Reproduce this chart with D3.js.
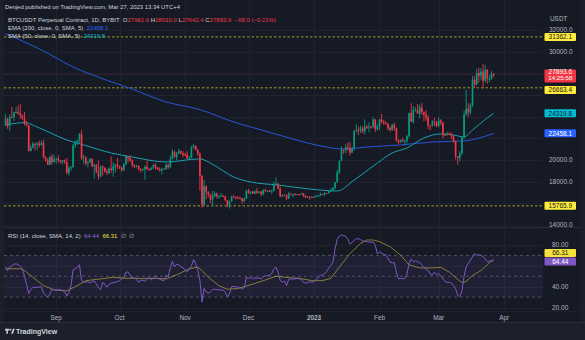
<!DOCTYPE html>
<html>
<head>
<meta charset="utf-8">
<script src="https://cdn.jsdelivr.net/npm/d3@7"></script>
<style>
  html, body { margin: 0; padding: 0; background: #161a25; }
  svg { display: block; font-family: "Liberation Sans", Arial, sans-serif; }
</style>
</head>
<body>
<svg id="chart" width="585" height="340"></svg>
<script>
// ---- BTCUSDT perpetual, daily candles 2022-08-08 .. 2023-03-27 ----
const firstDay = "2022-08-08";
const lastDay = "2023-03-27";

const opens = [
  23170,23810,23150,23950,23930,24400,24440,24300,24100,23850,23340,23200,20830,21140,21520,21400,21530,21370,21570,20260,20040,19550,20290,19800,
  20050,20130,19950,19830,19990,19800,18790,19290,19320,21360,21650,21830,22400,20170,20230,19700,19800,20110,19420,19540,18880,18480,19400,19300,18930,18800,19220,19080,19410,19590,
  19420,19310,19060,19620,20340,20160,19960,19530,19420,19440,19130,19060,19150,19380,19180,19070,19270,19550,19330,19120,19040,19160,19200,19570,19330,20090,20770,20290,20600,20810,20630,
  20490,20480,20150,20210,21150,21300,20910,20590,18540,15880,17590,17070,16810,16330,16620,16900,16660,16690,16700,16630,16290,15780,16190,16610,16600,16520,16460,16440,16210,16440,
  17170,16970,17090,16890,17110,16970,17090,16840,17230,17130,17130,17090,17200,17780,17810,17360,16630,16780,16740,16440,16900,16820,16830,16780,16840,16830,16920,16700,16550,16630,16600,
  16540,16620,16680,16680,16860,16830,16950,16940,17120,17180,17440,17940,18850,19930,20960,20880,21180,21130,20680,21080,22680,22780,22710,22920,22630,23060,23010,23080,23030,23740,22830,
  23130,23730,23490,23430,23320,22930,22760,23260,22960,21800,21630,21860,21780,21780,22200,24330,23520,24570,24630,24280,24840,24440,24190,23950,23190,23160,23560,23490,
  23130,23650,23470,22360,22350,22430,22410,22200,21700,20360,20190,20630,22160,24200,24750,24380,25050,27420,26970,28040,27770,28170,27310,28330,27490,27490,27961.6
];
const highs = [
  24240,23920,24230,24900,24450,24890,25050,25200,24230,24450,23600,23200,21360,21680,21520,21660,21800,21800,21860,20340,20140,20400,20550,20480,
  20200,20440,19990,20000,20050,20180,19450,19440,21500,21800,21850,22490,22780,20480,20330,19900,20180,20120,19680,19620,19950,19490,19500,19310,19180,19310,20340,19790,19640,20180,
  19480,19390,19720,20460,20370,20440,20060,19610,19550,19530,19260,19220,19510,19950,19220,19360,19670,19700,19340,19330,19250,19250,19690,19600,20400,21000,20870,20750,21080,20900,20820,
  20690,20800,20390,21300,21480,21360,21050,20690,18590,18150,17650,17090,16880,17160,17110,16980,16740,16960,16800,16710,16300,16250,16690,16790,16610,16680,16600,16480,16540,17240,
  17320,17100,17150,17200,17420,17110,17140,17300,17360,17230,17270,17240,18000,18390,17850,17530,16800,16860,16810,17060,16910,16870,16950,16860,16860,16940,16970,16780,16660,16650,16630,
  16630,16790,16760,16990,16880,17040,16960,17180,17390,17490,17990,19100,19960,21260,20990,21460,21620,21640,21190,22730,23290,23060,23160,23120,23760,23240,23480,23160,23950,23780,23290,
  23790,24250,23710,23580,23420,23150,23350,23450,23000,21930,21900,22060,21880,22320,24370,25250,24990,24880,25170,25120,25250,24470,24600,24130,23210,23670,23880,23600,
  23950,23780,23480,22420,22610,22550,22540,22270,21820,20370,20820,22190,24550,26460,25240,25230,27770,27740,28440,28500,28480,28850,28770,28400,27800,28200,28010
];
const lows = [
  23150,22880,22690,23860,23600,24300,24150,23800,23700,23180,23100,20800,20790,21070,20890,20900,21160,21320,20130,19800,19550,19550,19560,19800,
  19650,19760,19650,19600,19640,18680,18540,19010,19300,21100,21370,21560,20000,19630,19500,19320,19750,19370,18270,18800,18150,18370,18560,18840,18630,18690,18820,18470,18850,19160,
  19160,18920,19000,19500,19740,19860,19330,19250,19320,19030,18860,18980,18190,19070,18980,19060,19160,19110,19070,18920,18660,19130,19080,19160,19250,20060,20200,20000,20560,20510,20250,
  20350,20060,20040,20180,21080,20900,20390,17170,15590,15750,16380,16560,16000,15810,16550,16420,16420,16610,16560,16180,15620,15510,16160,16490,16350,16410,16400,16000,16100,16420,
  16860,16800,16870,16880,16870,16910,16680,16740,17060,17090,17070,16880,17080,17660,17280,16580,16580,16680,16300,16400,16750,16570,16760,16770,16730,16790,16590,16470,16490,16330,16480,
  16500,16550,16600,16660,16750,16680,16910,16910,17100,17140,17310,17900,18720,19900,20560,20630,20880,20420,20660,20870,22530,22300,22480,22470,22340,22860,22560,22890,22990,22560,22720,
  22760,23370,23220,23260,22760,22630,22740,22670,21690,21470,21600,21640,21370,21530,22050,23500,23340,24480,24280,23850,24150,23590,23620,22840,22740,23080,23110,23030,
  23020,23200,21970,22200,22220,22300,21930,21590,20050,19560,19890,20450,21940,24080,23950,24200,24900,26663.4,26890,27150,27360,26640,27160,27020,27170,27440,27642.4
];
const closes = [
  23810,23150,23950,23930,24400,24440,24300,24100,23850,23340,23200,20830,21140,21520,21400,21530,21370,21570,20260,20040,19550,20290,19800,20050,
  20130,19950,19830,19990,19800,18790,19290,19320,21360,21650,21830,22400,20170,20230,19700,19800,20110,19420,19540,18880,18480,19400,19300,18930,18800,19220,19080,19410,19590,19420,
  19310,19060,19620,20340,20160,19960,19530,19420,19440,19130,19060,19150,19380,19180,19070,19270,19550,19330,19120,19040,19160,19200,19570,19330,20090,20770,20290,20600,20810,20630,20490,
  20480,20150,20210,21150,21300,20910,20590,18540,15880,17590,17070,16810,16330,16620,16900,16660,16690,16700,16630,16290,15780,16190,16610,16600,16520,16460,16440,16210,16440,17170,
  16970,17090,16890,17110,16970,17090,16840,17230,17130,17130,17090,17200,17780,17810,17360,16630,16780,16740,16440,16900,16820,16830,16780,16840,16830,16920,16700,16550,16630,16600,16540,
  16620,16680,16680,16860,16830,16950,16940,17120,17180,17440,17940,18850,19930,20960,20880,21180,21130,20680,21080,22680,22780,22710,22920,22630,23060,23010,23080,23030,23740,22830,23130,
  23730,23490,23430,23320,22930,22760,23260,22960,21800,21630,21860,21780,21780,22200,24330,23520,24570,24630,24280,24840,24440,24190,23950,23190,23160,23560,23490,23130,
  23650,23470,22360,22350,22430,22410,22200,21700,20360,20190,20630,22160,24200,24750,24380,25050,27420,26970,28040,27770,28170,27310,28330,27490,27490,27961.6,27893.6
];

// RSI (14) per day, same days as the candles
const rsiValues = [
  58.8,55.5,58.8,60,61.5,62,61,59.8,57.2,50,42,33.5,37,39.5,39.3,39.5,39.5,40,34,31.5,30,33,37.6,36.7,
  36.7,36.8,37,36.5,35,31.1,34.5,41,56,57.2,58.5,61,46,44.5,44.2,44.8,43.6,45,45.5,42.5,39,37,44,42.5,39.5,42,43.5,43.8,44.1,45,
  45.8,47.5,49,54,54,51,48,48.7,47,44.2,46,46.3,45,47.5,48.5,46.5,48.5,50.5,48.5,47,46.3,45.8,51,49.5,58,64.5,59,61.5,61,59.5,58,
  56,54.6,56.5,60,66,62,56,46,25.3,38.4,35,33.7,35,37,37.6,37.2,36.8,37,36.8,34.5,30.5,33,40,40.2,40,39.5,39.3,37.5,39,49,
  48,49,47.4,48.5,48,48.5,47.5,49.5,50.5,50.5,51,52.5,57,58.8,54,46,44.5,45.5,41,47,47.4,47.4,47.4,48,47.5,47,44.1,43.5,44,44.8,44.1,
  45,46.7,49,50.7,51.3,52.5,54.6,58,60.5,63.7,77,85.5,88.5,89.7,89,88.3,85.5,81,82.5,84.3,86,86,85.3,84,83.5,83.2,82.8,82.5,83.2,79.5,71.5,
  73.4,72,71.2,70.3,67,63.7,63,63,53.5,47.5,48,47.5,47.7,52,62.5,66.5,63.8,64.8,64,63,61,58.5,56.8,55.5,52,51.5,53.9,51.5,
  52.5,50.5,47.5,45,44.1,44.1,43.5,41,38,31.5,30.5,35.5,50,59,62.5,65.5,68.5,71.8,70.3,70.5,70,69,66.5,64,64.2,65,64.44
];

// SMA (14) of RSI
const rsiMaDates = ["2022-08-08","2022-08-15","2022-08-17","2022-08-21","2022-08-26","2022-08-31","2022-09-06","2022-09-11","2022-09-15","2022-09-22","2022-09-28","2022-10-04","2022-10-11","2022-10-19","2022-10-23","2022-10-29","2022-11-03","2022-11-07","2022-11-09","2022-11-12","2022-11-17","2022-11-21","2022-11-26","2022-12-03","2022-12-09","2022-12-14","2022-12-18","2022-12-25","2022-12-31","2023-01-05","2023-01-09","2023-01-13","2023-01-18","2023-01-23","2023-01-26","2023-01-29","2023-02-01","2023-02-06","2023-02-11","2023-02-15","2023-02-20","2023-02-25","2023-03-02","2023-03-06","2023-03-10","2023-03-12","2023-03-14","2023-03-17","2023-03-21","2023-03-24","2023-03-27"];
const rsiMaValues = [57.2,57.2,55.5,49,41,37,36,41,45.8,47.4,49,48,48,48,47.4,52.3,57.2,58.8,55.5,49,40.9,37.6,38.2,42.5,46.4,50,49,48,45.8,45.8,48,58.8,71.8,81.5,84.8,84.8,83.2,78.3,70.2,61,58,58,58.5,54,47,44,45,50.7,55.5,61,66.31];

// EMA (200) of close
const emaDates = ["2022-08-08","2022-08-21","2022-08-25","2022-09-09","2022-09-22","2022-10-06","2022-10-23","2022-11-08","2022-11-24","2022-12-02","2022-12-17","2023-01-02","2023-01-15","2023-01-26","2023-02-11","2023-02-26","2023-03-13","2023-03-27"];
const emaValues = [31650,30540,30160,28590,27570,26620,25360,24650,23510,23050,22220,21390,21020,21200,21390,21660,21760,22458.1];

// SMA (50) of close
const smaDates = ["2022-08-08","2022-08-17","2022-08-24","2022-09-06","2022-09-14","2022-09-27","2022-10-07","2022-10-23","2022-11-08","2022-11-14","2022-11-24","2022-12-02","2022-12-15","2022-12-30","2023-01-12","2023-01-20","2023-01-31","2023-02-07","2023-02-14","2023-02-22","2023-03-02","2023-03-08","2023-03-13","2023-03-17","2023-03-24","2023-03-27"];
const smaValues = [23230,23450,22960,21850,21390,20650,20280,19820,20100,19600,18430,17970,17690,17320,17140,18150,19720,20650,21110,22030,22400,22310,22120,22770,23880,24319.8];

// Horizontal levels
const levelValues = [31362.1, 26663.4, 15765.9];
const lastPrice = 27893.6;

// Axis ticks
const priceTicks = [14000, 16000, 18000, 20000, 22000, 24000, 26000, 28000, 30000, 32000];
const rsiTicks = [20, 40, 60, 80];
const rsiBands = [70, 50, 30];
const monthTicks = ["2022-09-01","2022-10-01","2022-11-01","2022-12-01","2023-01-01","2023-02-01","2023-03-01","2023-04-01"];
const monthLabels = ["Sep","Oct","Nov","Dec","2023","Feb","Mar","Apr"];

// ---- drawing ----
const parse = d3.utcParse("%Y-%m-%d");
const days = d3.utcDay.range(parse(firstDay), d3.utcDay.offset(parse(lastDay), 1));
const candles = days.map((d, i) => ({ date: d, o: opens[i], h: highs[i], l: lows[i], c: closes[i], rsi: rsiValues[i] }));

const svg = d3.select("#chart");
const W = 585, H = 340;
const plotL = 4, plotR = 543, frameR = 580;
const mainTop = 0, mainBot = 227, rsiTop = 228, rsiBot = 311, footTop = 322;

const x = d3.scaleUtc().domain([parse("2022-09-01"), parse("2023-04-01")]).range([56.2, 504.2]);
const y = d3.scaleLinear().domain([14000, 32000]).range([225, 30]);
const yR = d3.scaleLinear().domain([20, 80]).range([307.5, 245]);

const C = {
  bg: "#161a25", frame: "#1c202b", grid: "#1f2330", sep: "#2a2e39",
  text: "#b2b5be", textHi: "#d1d4dc", up: "#089981", down: "#f23645",
  ema: "#2a55d8", emaLbl: "#2962ff", sma: "#17a2b0", smaLbl: "#00bcd4",
  level: "#c2b02e", levelLbl: "#ffeb3b", rsi: "#7e57c2", rsiMa: "rgba(205,185,60,0.6)", rsiMaLbl: "#f5e13a"
};

// background and frame
svg.append("rect").attr("width", W).attr("height", H).attr("fill", C.bg);
svg.append("rect").attr("x", 0).attr("y", footTop).attr("width", W).attr("height", H - footTop).attr("fill", C.frame);
svg.append("rect").attr("x", 0).attr("y", 0).attr("width", plotL).attr("height", footTop).attr("fill", C.frame);
svg.append("rect").attr("x", frameR).attr("y", 0).attr("width", W - frameR).attr("height", footTop).attr("fill", C.frame);
svg.append("line").attr("x1", 0).attr("x2", W).attr("y1", footTop + 0.5).attr("y2", footTop + 0.5).attr("stroke", C.sep);

const defs = svg.append("defs");
defs.append("clipPath").attr("id", "clipMain").append("rect")
  .attr("x", plotL).attr("y", mainTop).attr("width", plotR - plotL).attr("height", mainBot - mainTop);
defs.append("clipPath").attr("id", "clipRsi").append("rect")
  .attr("x", plotL).attr("y", rsiTop).attr("width", plotR - plotL).attr("height", rsiBot - rsiTop);

// grid
const grid = svg.append("g").attr("stroke", C.grid).attr("stroke-width", 1);
grid.selectAll("line.h").data(priceTicks).join("line")
  .attr("x1", plotL).attr("x2", plotR)
  .attr("y1", d => Math.round(y(d)) + 0.5).attr("y2", d => Math.round(y(d)) + 0.5);
grid.selectAll("line.r").data(rsiTicks).join("line")
  .attr("x1", plotL).attr("x2", plotR)
  .attr("y1", d => Math.round(yR(d)) + 0.5).attr("y2", d => Math.round(yR(d)) + 0.5);
grid.selectAll("line.v").data(monthTicks).join("line")
  .attr("x1", d => Math.round(x(parse(d))) + 0.5).attr("x2", d => Math.round(x(parse(d))) + 0.5)
  .attr("y1", mainTop).attr("y2", rsiBot);

// pane separators
svg.append("line").attr("x1", plotL).attr("x2", frameR).attr("y1", mainBot + 0.5).attr("y2", mainBot + 0.5).attr("stroke", C.sep);
svg.append("line").attr("x1", plotL).attr("x2", frameR).attr("y1", rsiBot + 0.5).attr("y2", rsiBot + 0.5).attr("stroke", "#1d212c");

// ---- main pane ----
const main = svg.append("g").attr("clip-path", "url(#clipMain)");

// last price dotted line
main.append("line").attr("x1", plotL).attr("x2", plotR)
  .attr("y1", y(lastPrice)).attr("y2", y(lastPrice))
  .attr("stroke", "rgba(242,54,69,0.35)").attr("stroke-dasharray", "1,1.5");

// horizontal levels
main.selectAll("line.level").data(levelValues).join("line")
  .attr("x1", plotL).attr("x2", plotR)
  .attr("y1", d => y(d)).attr("y2", d => y(d))
  .attr("stroke", C.level).attr("stroke-opacity", 0.85).attr("stroke-dasharray", "2.5,2");

// moving averages
const maLine = d3.line().curve(d3.curveMonotoneX);
main.append("path")
  .attr("d", maLine(emaDates.map((d, i) => [x(parse(d)), y(emaValues[i])])))
  .attr("fill", "none").attr("stroke", C.ema).attr("stroke-width", 1);
main.append("path")
  .attr("d", maLine(smaDates.map((d, i) => [x(parse(d)), y(smaValues[i])])))
  .attr("fill", "none").attr("stroke", C.sma).attr("stroke-width", 1);

// candles
const bodyW = 1.65;
const cg = main.append("g");
cg.selectAll("line.wick").data(candles).join("line")
  .attr("x1", d => x(d.date)).attr("x2", d => x(d.date))
  .attr("y1", d => y(d.h)).attr("y2", d => y(d.l))
  .attr("stroke", d => d.c >= d.o ? C.up : C.down).attr("stroke-width", 0.9);
cg.selectAll("rect.body").data(candles).join("rect")
  .attr("x", d => x(d.date) - bodyW / 2).attr("width", bodyW)
  .attr("y", d => y(Math.max(d.o, d.c)))
  .attr("height", d => Math.max(0.9, Math.abs(y(d.o) - y(d.c))))
  .attr("fill", d => d.c >= d.o ? C.up : C.down);

// ---- RSI pane ----
const rsiG = svg.append("g").attr("clip-path", "url(#clipRsi)");
rsiG.append("rect").attr("x", plotL).attr("width", plotR - plotL)
  .attr("y", yR(70)).attr("height", yR(30) - yR(70))
  .attr("fill", "rgba(126,87,194,0.1)");
rsiG.selectAll("line.band").data(rsiBands).join("line")
  .attr("x1", plotL).attr("x2", plotR)
  .attr("y1", d => yR(d)).attr("y2", d => yR(d))
  .attr("stroke", "rgba(120,123,134,0.55)").attr("stroke-dasharray", "3,3");
rsiG.append("path")
  .attr("d", d3.line()(rsiMaDates.map((d, i) => [x(parse(d)), yR(rsiMaValues[i])])))
  .attr("fill", "none").attr("stroke", C.rsiMa).attr("stroke-width", 1);
rsiG.append("path")
  .attr("d", d3.line().x(d => x(d.date)).y(d => yR(d.rsi))(candles))
  .attr("fill", "none").attr("stroke", C.rsi).attr("stroke-width", 1);

// ---- price scale ----
const axisX = 549;
const fmt = d3.format(".1f");
const lastRsi = rsiValues[rsiValues.length - 1];
const lastRsiMa = rsiMaValues[rsiMaValues.length - 1];

// value tags on the scale: [centre y, half height]
const priceTags = [
  [y(levelValues[0]), 4], [y(levelValues[1]) + 2.3, 4], [y(levelValues[2]), 4],
  [y(smaValues[smaValues.length - 1]), 4], [y(emaValues[emaValues.length - 1]), 4],
  [y(lastPrice) + 1.5, 6.5]
];
const rsiTags = [[yR(lastRsiMa) - 6.3, 4], [yR(lastRsi) + 0.2, 4]];
const clear = (tags, py) => tags.every(([cy, hh]) => Math.abs(py - cy) > hh + 2.6);

svg.append("text").attr("x", axisX + 1).attr("y", 21).attr("fill", C.text)
  .attr("font-size", 6.4).text("USDT");
svg.selectAll("text.ptick").data(priceTicks.filter(t => clear(priceTags, y(t)))).join("text")
  .attr("x", axisX).attr("y", d => y(d)).attr("dy", "0.35em")
  .attr("fill", C.text).attr("font-size", 6.5).text(d => fmt(d));
svg.selectAll("text.rtick").data(rsiTicks.filter(t => clear(rsiTags, yR(t)))).join("text")
  .attr("x", axisX + 3).attr("y", d => yR(d)).attr("dy", "0.35em")
  .attr("fill", C.text).attr("font-size", 6.5).text(d => d.toFixed(2));

function tag(cy, label, bg, fg, h = 8) {
  svg.append("rect").attr("x", 544.5).attr("y", cy - h / 2).attr("width", 31.5).attr("height", h)
    .attr("rx", 1).attr("fill", bg);
  svg.append("text").attr("x", 560.3).attr("y", cy).attr("dy", "0.36em")
    .attr("text-anchor", "middle").attr("fill", fg).attr("font-size", 6.5).text(label);
}
tag(priceTags[0][0], fmt(levelValues[0]), C.levelLbl, "#131722");
tag(priceTags[1][0], fmt(levelValues[1]), C.levelLbl, "#131722");
tag(priceTags[2][0], fmt(levelValues[2]), C.levelLbl, "#131722");
tag(priceTags[3][0], fmt(smaValues[smaValues.length - 1]), C.smaLbl, "#131722");
tag(priceTags[4][0], fmt(emaValues[emaValues.length - 1]), C.emaLbl, "#ffffff");
// last price with countdown
const lpY = y(lastPrice);
svg.append("rect").attr("x", 544.5).attr("y", lpY - 5).attr("width", 31.5).attr("height", 13)
  .attr("rx", 1).attr("fill", C.down);
svg.append("text").attr("x", 560.3).attr("y", lpY - 0.3).attr("text-anchor", "middle")
  .attr("fill", "#fff").attr("font-size", 6.5).text(fmt(lastPrice));
svg.append("text").attr("x", 560.3).attr("y", lpY + 6).attr("text-anchor", "middle")
  .attr("fill", "#fff").attr("font-size", 6.2).text("14:25:58");
// RSI value tags
tag(rsiTags[0][0], lastRsiMa.toFixed(2), C.rsiMaLbl, "#131722");
tag(rsiTags[1][0], lastRsi.toFixed(2), C.rsi, "#ffffff");

// ---- time axis ----
svg.selectAll("text.month").data(monthTicks).join("text")
  .attr("x", d => x(parse(d))).attr("y", 319.5).attr("text-anchor", "middle")
  .attr("fill", C.text).attr("font-size", 6.4)
  .attr("font-weight", (d, i) => monthLabels[i] === "2023" ? 700 : 400)
  .text((d, i) => monthLabels[i]);

// ---- legends ----
function legend(xp, yp, parts, size = 6) {
  const t = svg.append("text").attr("x", xp).attr("y", yp).attr("font-size", size)
    .attr("xml:space", "preserve").style("white-space", "pre");
  parts.forEach(([s, col]) => t.append("tspan").attr("fill", col).text(s));
  return t;
}
legend(5, 8.8, [["Denjed published on TradingView.com, Mar 27, 2023 13:34 UTC+4", C.textHi]], 5.9);
legend(8, 21.5, [
  ["BTCUSDT Perpetual Contract, 1D, BYBIT  ", C.textHi],
  ["O", C.textHi], ["27961.6", C.down], [" H", C.textHi], ["28010.0", C.down],
  [" L", C.textHi], ["27642.4", C.down], [" C", C.textHi], ["27893.6", C.down],
  ["  \u221268.0 (\u22120.21%)", C.down]
], 6);
legend(8, 30, [["EMA (200, close, 0, SMA, 5)  ", C.textHi], [fmt(emaValues[emaValues.length - 1]), C.emaLbl]], 6);
legend(8, 38.3, [["SMA (50, close, 0, SMA, 5)  ", C.textHi], [fmt(smaValues[smaValues.length - 1]), C.smaLbl]], 6);
legend(8, 238, [
  ["RSI (14, close, SMA, 14, 2)  ", C.textHi],
  [lastRsi.toFixed(2), "#8c6bd6"], ["  ", C.textHi],
  [lastRsiMa.toFixed(2), C.rsiMaLbl], ["  \u2205  \u2205", C.text]
], 6);

// ---- footer logo ----
const logo = svg.append("g").attr("fill", C.textHi);
logo.append("path").attr("d", "M5,328.8h4.4v1.6h-1.5v3.4h-1.5v-3.4h-1.4z");
logo.append("circle").attr("cx", 10.6).attr("cy", 329.7).attr("r", 0.85);
logo.append("path").attr("d", "M11.2,333.8l1.8,-5h1.7l-1.8,5z");
svg.append("text").attr("x", 16).attr("y", 333.6).attr("fill", C.textHi)
  .attr("font-size", 7).attr("font-weight", 700).text("TradingView");
</script>
</body>
</html>
